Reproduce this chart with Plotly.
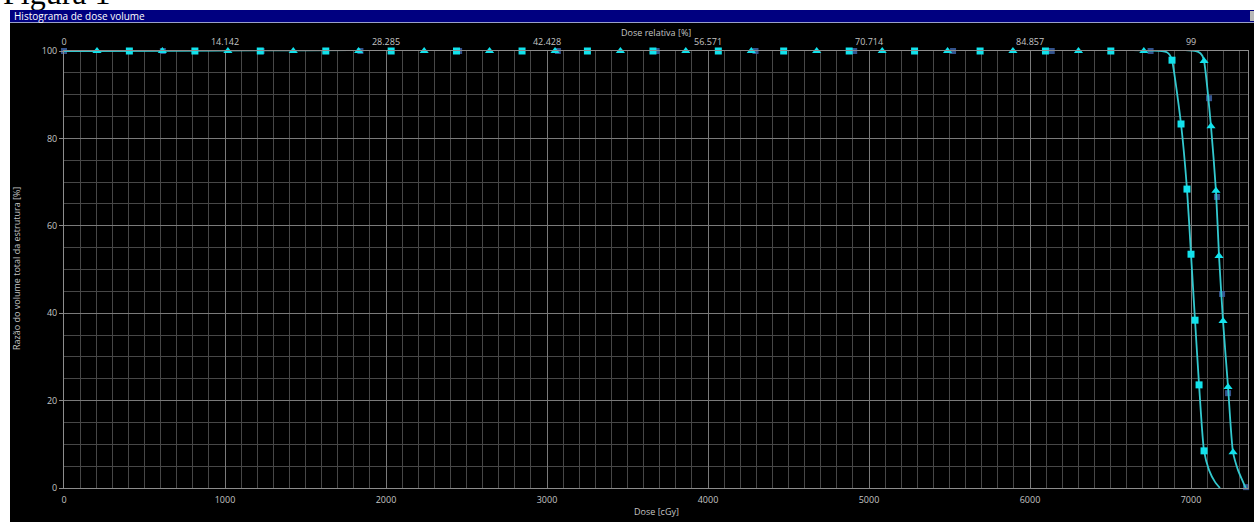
import plotly.graph_objects as go

# ---- eixos ----
REF_DOSE_CGY = 70.71            # cGy por 1 % de dose relativa (100 % = 7071 cGy)
DOSE_MAX = 7354
dose_ticks = [0, 1000, 2000, 3000, 4000, 5000, 6000, 7000]
rel_ticks = [0, 14.142, 28.285, 42.428, 56.571, 70.714, 84.857, 99]
vol_ticks = [0, 20, 40, 60, 80, 100]

# ---- estrutura 1 (quadrados) ----
curve1_dose = [0, 6820, 6850, 6868, 6882, 6938, 6975, 7000, 7025, 7050, 7081, 7112, 7149, 7180]
curve1_vol = [100, 100, 99.7, 99.1, 97.9, 83.3, 68.4, 53.5, 38.4, 23.6, 8.5, 4.1, 1.4, 0]
sq_dose = [406, 813, 1219, 1626, 2032, 2438, 2845, 3251, 3658, 4064, 4470, 4877,
           5283, 5690, 6096, 6502, 6882, 6938, 6975, 7000, 7025, 7050, 7081]
sq_vol = [100, 100, 100, 100, 100, 100, 100, 100, 100, 100, 100, 100,
          100, 100, 100, 100, 97.9, 83.3, 68.4, 53.5, 38.4, 23.6, 8.5]

# ---- estrutura 2 (triângulos) ----
curve2_dose = [0, 7030, 7058, 7072, 7081, 7124, 7155, 7174, 7199, 7230, 7261, 7292, 7323, 7340]
curve2_vol = [100, 100, 99.5, 98.8, 97.7, 82.8, 68.0, 53.1, 38.2, 23.1, 8.2, 4.1, 1.4, 0]
tri_dose = [205, 611, 1018, 1424, 1830, 2237, 2643, 3050, 3456, 3862, 4269, 4675,
            5082, 5488, 5894, 6301, 6707, 7081, 7124, 7155, 7174, 7199, 7230, 7261]
tri_vol = [100, 100, 100, 100, 100, 100, 100, 100, 100, 100, 100, 100,
           100, 100, 100, 100, 100, 97.7, 82.8, 68.0, 53.1, 38.2, 23.1, 8.2]

# ---- estrutura 3 (marcadores azuis, sob a curva 2) ----
c_dose = [0, 614, 1227, 1841, 2454, 3068, 3681, 4295, 4908, 5522, 6135, 6749,
          7112, 7161, 7193, 7230, 7342]
c_vol = [100, 100, 100, 100, 100, 100, 100, 100, 100, 100, 100, 100,
         89.2, 66.6, 44.4, 21.7, 0.2]

LINE_C = "#33c9cf"
MARK_C = "#12e2ec"
BLUE_M = "#3a5c9c"
TXT = "#c4c4c4"
FONT = "Open Sans"

# ---- geometria da página (pixels) ----
W, H = 1254, 522
ML, MR, MT, MB = 64, 6, 51, 34
PW, PH = W - ML - MR, H - MT - MB


def px(x):
    return (x - ML) / PW


def py(y):
    return (H - MB - y) / PH


fig = go.Figure()

fig.add_trace(go.Scatter(
    x=c_dose, y=c_vol, mode="markers", cliponaxis=False, hoverinfo="skip",
    marker=dict(symbol="square", size=6, color=BLUE_M, opacity=0.9, line=dict(width=0)),
))
fig.add_trace(go.Scatter(
    x=curve2_dose, y=curve2_vol, mode="lines", cliponaxis=False,
    line=dict(color=LINE_C, width=1.8, shape="spline", smoothing=0.6),
))
fig.add_trace(go.Scatter(
    x=curve1_dose, y=curve1_vol, mode="lines", cliponaxis=False,
    line=dict(color=LINE_C, width=1.8, shape="spline", smoothing=0.6),
))
fig.add_trace(go.Scatter(
    x=tri_dose, y=tri_vol, mode="markers", cliponaxis=False,
    marker=dict(symbol="triangle-up", size=8, color=MARK_C, line=dict(width=0)),
))
fig.add_trace(go.Scatter(
    x=sq_dose, y=sq_vol, mode="markers", cliponaxis=False,
    marker=dict(symbol="square", size=7, color=MARK_C, line=dict(width=0)),
))
# eixo superior (dose relativa)
fig.add_trace(go.Scatter(
    x=[rel_ticks[0], rel_ticks[-1]], y=[100, 100], xaxis="x2", mode="markers",
    marker=dict(opacity=0), hoverinfo="skip",
))

tickfont = dict(family=FONT, size=9, color=TXT)

fig.update_layout(
    width=W, height=H,
    margin=dict(l=ML, r=MR, t=MT, b=MB, pad=0),
    paper_bgcolor="white", plot_bgcolor="black",
    showlegend=False,
    xaxis=dict(
        range=[0, DOSE_MAX], tickmode="array", tickvals=dose_ticks,
        showgrid=True, gridcolor="#7a7a7a", gridwidth=1,
        minor=dict(tickmode="linear", tick0=0, dtick=100, showgrid=True,
                   gridcolor="#474747", gridwidth=1),
        showline=True, linecolor="#8c8c8c", linewidth=1, mirror=True,
        zeroline=False, ticks="", tickfont=tickfont, ticklabelstandoff=3,
    ),
    xaxis2=dict(
        overlaying="x", side="top", range=[0, DOSE_MAX / REF_DOSE_CGY],
        tickmode="array", tickvals=rel_ticks, ticktext=[f"{v:g}" for v in rel_ticks],
        showgrid=False, showline=False, zeroline=False, ticks="", tickfont=tickfont,
        ticklabelstandoff=3,
    ),
    yaxis=dict(
        range=[0, 100], tickmode="array", tickvals=vol_ticks,
        showgrid=True, gridcolor="#7a7a7a", gridwidth=1,
        minor=dict(tickmode="linear", tick0=0, dtick=5, showgrid=True,
                   gridcolor="#474747", gridwidth=1),
        showline=True, linecolor="#8c8c8c", linewidth=1, mirror=True,
        zeroline=False, ticks="outside", ticklen=4, tickcolor="#8c8c8c",
        tickfont=tickfont,
    ),
    shapes=[
        # legenda do documento, parcialmente coberta pela janela
        dict(type="rect", xref="paper", yref="paper", layer="below",
             x0=px(0), x1=px(220), y0=py(8), y1=py(-60),
             line=dict(width=0), fillcolor="rgba(0,0,0,0)",
             label=dict(text="Figura 1", textposition="bottom left", padding=0,
                        font=dict(family="Liberation Serif", size=32, color="black"))),
        # janela preta
        dict(type="rect", xref="paper", yref="paper", layer="below",
             x0=px(10), x1=px(W + 2), y0=py(H + 2), y1=py(23),
             line=dict(width=0), fillcolor="black"),
        # barra de título
        dict(type="rect", xref="paper", yref="paper", layer="below",
             x0=px(10), x1=px(W + 2), y0=py(22), y1=py(10),
             line=dict(width=0), fillcolor="#000080"),
        dict(type="rect", xref="paper", yref="paper", layer="below",
             x0=px(10), x1=px(W + 2), y0=py(23), y1=py(22),
             line=dict(width=0), fillcolor="#9aa0c8"),
        dict(type="rect", xref="paper", yref="paper", layer="below",
             x0=px(1250), x1=px(W + 2), y0=py(21), y1=py(11),
             line=dict(width=0), fillcolor="#b8b8b8"),
    ],
    annotations=[
        dict(text="Histograma de dose volume", xref="paper", yref="paper",
             x=px(12), y=py(16), xanchor="left", yanchor="middle", showarrow=False,
             font=dict(family=FONT, size=10, color="white")),
        dict(text="Dose relativa [%]", xref="paper", yref="paper",
             x=px(656), y=py(32), xanchor="center", yanchor="middle", showarrow=False,
             font=dict(family=FONT, size=9, color=TXT)),
        dict(text="Dose [cGy]", xref="paper", yref="paper",
             x=px(656), y=py(511), xanchor="center", yanchor="middle", showarrow=False,
             font=dict(family=FONT, size=9, color=TXT)),
        dict(text="Razão do volume total da estrutura [%]", xref="paper", yref="paper",
             x=px(16), y=py(269), xanchor="center", yanchor="middle", showarrow=False,
             textangle=-90, font=dict(family=FONT, size=9, color=TXT)),
    ],
)

fig.write_html("out.html")
